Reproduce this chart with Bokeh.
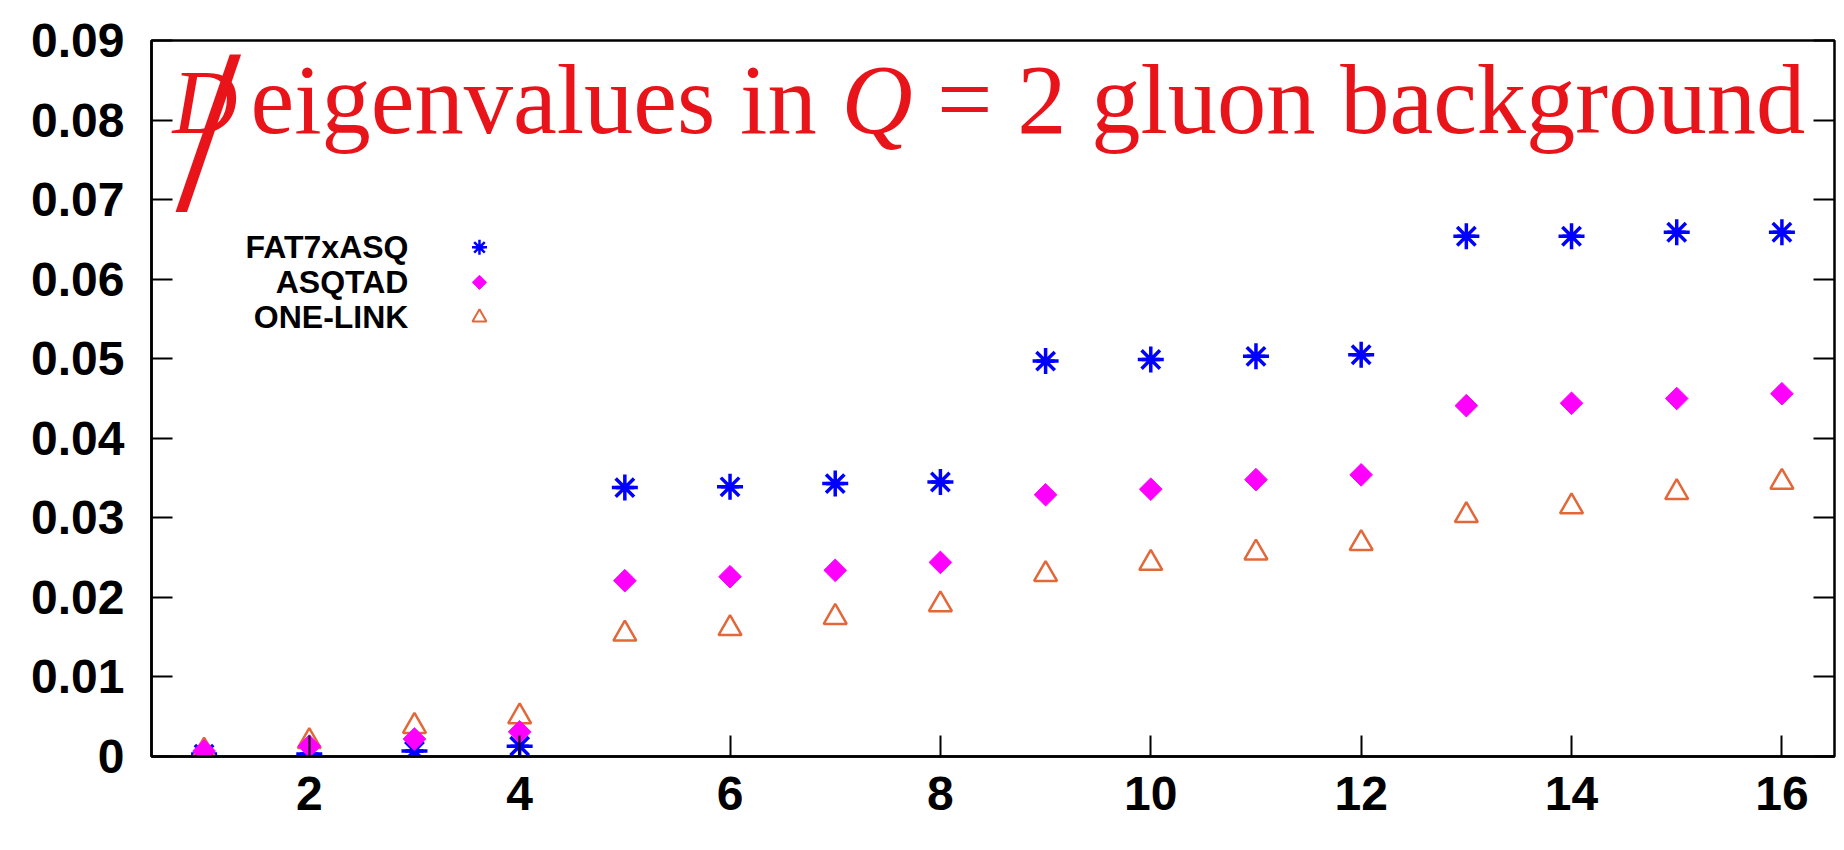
import numpy as np
from bokeh.plotting import figure
from bokeh.models import Range1d, LinearAxis, FixedTicker, Label, ColumnDataSource
from bokeh.embed import file_html
from bokeh.resources import INLINE

# ---- data -------------------------------------------------------------
eigen_index = list(range(1, 17))
fat7xasq = [0.0003, 0.0003, 0.0007, 0.0013, 0.0338, 0.0339, 0.0343, 0.0345,
            0.0497, 0.0499, 0.0503, 0.0505, 0.0654, 0.0654, 0.0659, 0.0659]
asqtad = [0.0007, 0.0013, 0.0022, 0.0031, 0.0221, 0.0226, 0.0234, 0.0244,
          0.0329, 0.0336, 0.0348, 0.0354, 0.0441, 0.0444, 0.0450, 0.0456]
one_link = [0.0007, 0.0019, 0.0038, 0.0050, 0.0154, 0.0161, 0.0175, 0.0191,
            0.0229, 0.0243, 0.0256, 0.0268, 0.0303, 0.0314, 0.0332, 0.0345]
series_names = ["FAT7xASQ", "ASQTAD", "ONE-LINK"]

x_ticks = [2, 4, 6, 8, 10, 12, 14, 16]
y_ticks = [0, 0.01, 0.02, 0.03, 0.04, 0.05, 0.06, 0.07, 0.08, 0.09]
y_tick_labels = ["0", "0.01", "0.02", "0.03", "0.04", "0.05", "0.06", "0.07", "0.08", "0.09"]

# ---- styling ----------------------------------------------------------
BLUE = "#0000ff"
MAGENTA = "#ff00ff"
ORANGE = "#e2683a"
TITLE_RED = "#e8141a"
SANS = "Liberation Sans"
SERIF = "Liberation Serif"

p = figure(width=1844, height=850,
           x_range=Range1d(0.5, 16.5), y_range=Range1d(0, 0.09),
           output_backend="svg", toolbar_location=None,
           min_border_left=151, min_border_right=10,
           min_border_top=40, min_border_bottom=94)
p.background_fill_color = "white"
p.border_fill_color = "white"
p.xgrid.visible = False
p.ygrid.visible = False
p.outline_line_color = "black"
p.outline_line_width = 2.5
p.outline_line_alpha = 1.0

for ax in (p.xaxis[0], p.yaxis[0]):
    ax.axis_line_width = 2.5
    ax.axis_line_color = "black"
    ax.major_tick_line_width = 2
    ax.major_tick_line_color = "black"
    ax.major_tick_out = 0
    ax.major_tick_in = 21
    ax.minor_tick_line_color = None
    ax.major_label_text_font = SANS
    ax.major_label_text_font_style = "bold"
    ax.major_label_text_font_size = "48px"
    ax.major_label_text_color = "black"

p.xaxis[0].ticker = FixedTicker(ticks=x_ticks)
p.xaxis[0].major_label_standoff = 20
p.yaxis[0].ticker = FixedTicker(ticks=y_ticks)
p.yaxis[0].major_label_overrides = {t: s for t, s in zip(y_ticks, y_tick_labels)}
p.yaxis[0].major_label_standoff = 27

# mirrored ticks on the right edge
right_axis = LinearAxis(ticker=FixedTicker(ticks=y_ticks),
                        major_label_text_font_size="0px",
                        major_label_standoff=0,
                        major_tick_in=21, major_tick_out=0,
                        major_tick_line_width=2,
                        minor_tick_line_color=None,
                        axis_line_color=None)
right_axis.major_label_overrides = {t: "" for t in y_ticks}
p.add_layout(right_axis, "right")

# ---- series -----------------------------------------------------------
src = ColumnDataSource(dict(x=eigen_index, fat=fat7xasq, asq=asqtad, one=one_link))

STAR_SIZE = 26
p.scatter("x", "fat", source=src, marker="asterisk", size=STAR_SIZE,
          line_color=BLUE, line_width=3.5)
p.scatter("x", "fat", source=src, marker="dash", size=STAR_SIZE * 0.7,
          line_color=BLUE, line_width=3.5)
p.scatter("x", "one", source=src, marker="triangle", size=23,
          fill_color=None, line_color=ORANGE, line_width=2.5)
p.scatter("x", "asq", source=src, marker="square", angle=np.pi / 4, size=16,
          fill_color=MAGENTA, line_color=MAGENTA, line_width=1)

# ---- key (label text, then sample marker) -----------------------------
key_text_x = 2.943
key_marker_x = 3.618
key_top_y = 0.0640
key_step = 0.0044
key_y = [key_top_y - i * key_step for i in range(len(series_names))]

for name, ky in zip(series_names, key_y):
    p.add_layout(Label(x=key_text_x, y=ky, text=name, text_align="right",
                       text_baseline="middle", text_font=SANS,
                       text_font_style="bold",
                       text_font_size="32px", text_color="black"))

p.scatter([key_marker_x], [key_y[0]], marker="asterisk", size=15,
          line_color=BLUE, line_width=2.5)
p.scatter([key_marker_x], [key_y[0]], marker="dash", size=10,
          line_color=BLUE, line_width=2.5)
p.scatter([key_marker_x], [key_y[1]], marker="square", angle=np.pi / 4, size=10,
          fill_color=MAGENTA, line_color=MAGENTA)
p.scatter([key_marker_x], [key_y[2]], marker="triangle", size=14,
          fill_color=None, line_color=ORANGE, line_width=2)

# ---- title inside the frame, mixed italic / upright pieces --------------
title_px = 98.5
px_per_x = 1683 / 16.0
em = title_px / px_per_x            # one em in data units along x
title_mid_y = 0.0826                # vertical middle of the title line
e_start = 1.441

# Times-compatible advance widths (per 1000 em)
adv = {"e": 444, "i": 278, "g": 500, "n": 500, "v": 500, "a": 444, "l": 278,
       "u": 500, "s": 389, " ": 250, "=": 564, "2": 500, "o": 500, "b": 500,
       "c": 444, "k": 500, "r": 333, "d": 500}

def width_em(s):
    return sum(adv[ch] for ch in s) / 1000.0

piece1 = "eigenvalues in"
piece2 = "Q"
piece3 = "= 2 gluon background"
q_start = e_start + width_em(piece1 + " ") * em
rest_start = q_start + (0.722 + 0.25) * em

title_common = dict(y=title_mid_y, text_baseline="middle", text_align="left",
                    text_font=SERIF, text_font_size=f"{title_px}px",
                    text_color=TITLE_RED)
# slashed D: italic D with a tall upright solidus laid over it
p.add_layout(Label(x=0.70, y=0.0822, text="D", text_font_style="italic",
                   text_baseline="middle", text_align="left", text_font=SERIF,
                   text_font_size="90px", text_color=TITLE_RED))
p.add_layout(Label(x=0.728, y=0.0787, text="/", text_baseline="middle",
                   text_align="left", text_font=SERIF, text_font_size="236px",
                   text_color=TITLE_RED))
p.add_layout(Label(x=e_start, text=piece1, **title_common))
p.add_layout(Label(x=q_start, text=piece2, text_font_style="italic", **title_common))
p.add_layout(Label(x=rest_start, text=piece3, **title_common))

open("out.html", "w").write(file_html(p, INLINE))
